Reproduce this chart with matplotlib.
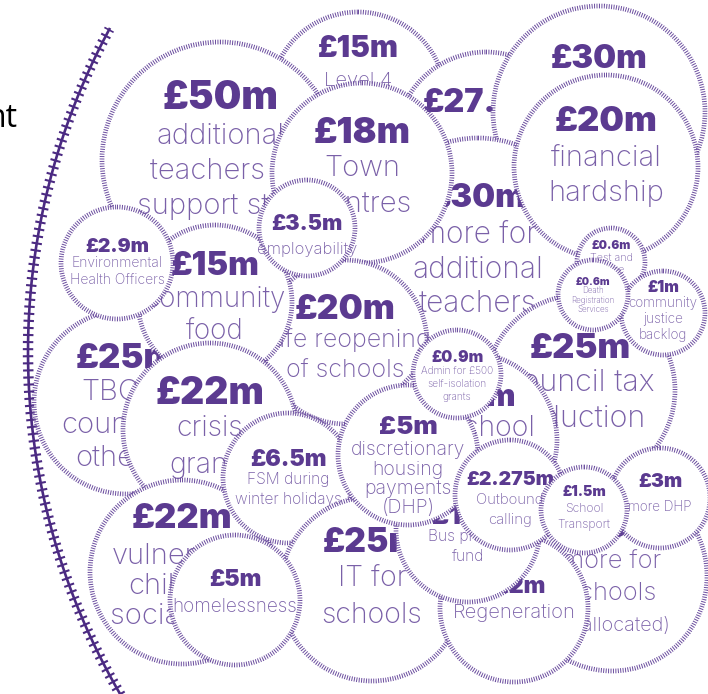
import matplotlib
matplotlib.use("Agg")
import matplotlib.pyplot as plt
from matplotlib.patches import Circle
import numpy as np

plt.rcParams['lines.scale_dashes'] = False

# ---- data (drawing order: back to front) ----
values = ["£15m", "£50m", "£27.5m", "£30m", "£30m", "£20m", "£18m", "£25m", "£20m", "£15m",
          "£2.9m", "£3.5m", "£22m", "£25m", "£20m", "£0.6m", "£1m", "£0.6m",
          "£22m", "£6.5m", "£25m", "£5m", "£25m", "£12m", "£10m", "£5m", "£0.9m",
          "£2.275m", "£3m", "£1.5m"]
labels = [["Level 4"],
          ["additional", "teachers &", "support staff"],
          [],
          [],
          ["more for", "additional", "teachers"],
          ["financial", "hardship"],
          ["Town", "centres"],
          ["TBC", "council", "other"],
          ["safe reopening", "of schools"],
          ["community", "food"],
          ["Environmental", "Health Officers"],
          ["employability"],
          ["crisis", "grants"],
          ["council tax", "reduction"],
          ["for school"],
          ["Test and", "Trace"],
          ["community", "justice", "backlog"],
          ["Death", "Registration", "Services"],
          ["vulnerable", "children", "social care"],
          ["FSM during", "winter holidays"],
          ["IT for", "schools"],
          ["homelessness"],
          ["more for", "schools", "(unallocated)"],
          ["Regeneration"],
          ["Bus priority", "fund"],
          ["discretionary", "housing", "payments", "(DHP)"],
          ["Admin for £500", "self-isolation", "grants"],
          ["Outbound", "calling"],
          ["more DHP"],
          ["School", "Transport"]]

# ---- layout (pixel units, y downwards) ----
cx = [358, 220, 486, 599, 478, 606, 362, 126, 345, 215, 117, 307, 210, 580, 470, 611, 663, 593,
      182, 288, 372, 235, 612, 514, 468, 408, 457, 510, 660, 584]
cy = [100, 160, 142, 112, 250, 167, 173, 402, 342, 302, 263, 228, 430, 390, 440, 262, 313, 295,
      572, 478, 589, 600, 576, 608, 530, 455, 374, 495, 498, 510]
rad = [88, 118, 90, 106, 112, 92, 90, 92, 82, 77, 56, 48, 87, 95, 87, 34, 42, 35,
       92, 65, 92, 65, 95, 74, 72, 70, 44, 55, 50, 43]

# ---- text styles (points / pixels) ----
vfs = [21.4, 28, 23.3, 23.3, 23.3, 25, 25.5, 25, 24.5, 23.5, 14, 15.5, 27, 25, 22.3, 8.4, 11.2, 7.4,
       25, 16.7, 24.2, 16.7, 22.3, 16.7, 18.6, 18.6, 11.2, 14, 14, 10.2]
lfs = [14.5, 21, 18, 18.5, 21.5, 21, 21, 21, 18, 20, 10, 12, 20.5, 22, 20.5, 7.8, 9.7, 5.8,
       21, 11.2, 20.5, 13.6, 18.4, 14.5, 11.2, 14, 7.3, 10.7, 9.7, 8.7]
voff = [-54, -65, -42, -56, -55, -49, -43, -47, -35, -39, -18, -6, -40, -45, -45, -17, -27, -14,
        -57, -20, -49, -22, -50, -23, -15, -30, -18, -17, -18, -19]
lgap = [34, 41, 38, 38, 40, 40, 38, 37, 33, 36, 18, 27, 38, 37, 33, 13, 17, 10,
        41, 22, 38, 29, 35, 27, 22, 25, 15, 22, 27, 18]
lsp = [30, 35, 34, 34, 34, 35, 37, 33, 30, 32, 17, 15, 37, 36, 34, 12, 16, 9.5,
       30, 20, 37, 20, 32, 20, 20, 19.3, 13, 20, 15, 16]
lxo = [0, 0, 0, 0, 0, 0, 0, -16, 0, 0, 0, 0, 0, 0, 0, 0, 0, 0,
       0, 0, 0, 0, 0, 0, 0, 0, 0, 0, 0, 0]
line_scale = {"(unallocated)": 0.78}

VAL_COLOR = "#5b3a90"
LAB_COLOR = "#7a60a8"
RING_COLOR = "#6a4c9e"
TRACK_COLOR = "#4b2a82"
PX = 100 / 72.0  # pixels per point

fig = plt.figure(figsize=(7.08, 6.94), dpi=100)
ax = fig.add_axes([0, 0, 1, 1])
ax.set_xlim(0, 708)
ax.set_ylim(694, 0)
ax.axis("off")

# decorative railway-track arc
tc_x, tc_y, tR = 709, 352, 681
t = np.deg2rad(np.linspace(148, 208.3, 600))
ax.plot(tc_x + tR * np.cos(t), tc_y + tR * np.sin(t), color=TRACK_COLOR, lw=7.5,
        dashes=(1.5, 3.6), solid_capstyle="butt", dash_capstyle="butt", zorder=1)
ax.plot(tc_x + tR * np.cos(t), tc_y + tR * np.sin(t), color=TRACK_COLOR, lw=1.9, zorder=1)

ax.text(17, 127, "nt", ha="right", va="baseline", fontsize=23, color="black",
        family="Open Sans", zorder=1)

for i, (v, lines) in enumerate(zip(values, labels)):
    z = 10 + 2 * i
    circ = Circle((cx[i], cy[i]), rad[i], facecolor="white", edgecolor=RING_COLOR,
                  lw=3.4, linestyle=(0, (0.7, 1.05)), zorder=z)
    ax.add_patch(circ)
    vy = cy[i] + voff[i]
    fsv = vfs[i]
    ax.text(cx[i], vy + 0.36 * fsv * PX, v, ha="center", va="baseline",
            fontsize=fsv, fontweight="black", color=VAL_COLOR, family="Inter", zorder=z + 1)
    for k, line in enumerate(lines):
        fs = lfs[i] * line_scale.get(line, 1.0)
        ly = vy + lgap[i] + k * lsp[i]
        ax.text(cx[i] + lxo[i], ly + 0.28 * fs * PX, line, ha="center", va="baseline",
                fontsize=fs, fontweight="light", color=LAB_COLOR, family="Inter", zorder=z + 1)

fig.savefig("out.png", dpi=100, facecolor="white")
